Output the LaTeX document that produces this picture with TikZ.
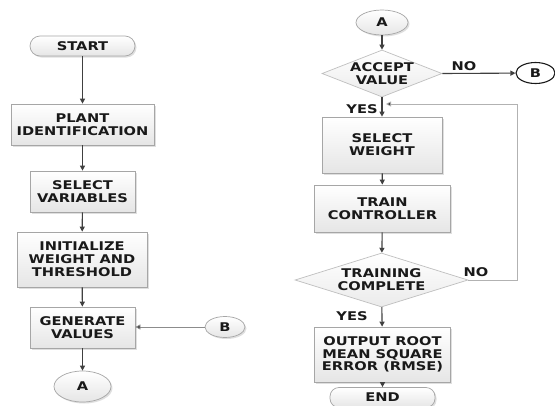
\documentclass[tikz,border=0pt]{standalone}
\usepackage{fontspec}
\newfontfamily\ff[FakeStretch=1.22]{DejaVu Sans}
\usetikzlibrary{shapes.geometric,arrows.meta,shadows}
\begin{document}
\begin{tikzpicture}[x=1pt,y=-1pt,
  txt/.style={font=\ff\bfseries\fontsize{12}{12.8}\selectfont, align=center, text=black!90, inner sep=0pt},
  shd/.style={drop shadow={opacity=0.25, shadow xshift=1.5pt, shadow yshift=-1.5pt}},
  box/.style={txt, shd, draw=black!35, line width=0.7pt, top color=white, bottom color=black!10},
  term/.style={box, rounded corners=10pt},
  oval/.style={txt, shd, ellipse, draw=black!35, line width=0.7pt, top color=white, bottom color=black!10},
  dec/.style={diamond, draw=black!25, line width=0.7pt, top color=white, bottom color=black!8, inner sep=0pt},
  lbl/.style={txt},
  arr/.style={draw=black!75, line width=1.1pt, -{Triangle[length=5pt,width=5pt]}},
  garr/.style={draw=black!45, line width=0.7pt, -{Triangle[length=5pt,width=5pt,fill=black!75]}},
]
\path[use as bounding box, clip] (0,0) rectangle (555,405);
\fill[white] (0,0) rectangle (555,405);

% left column
\node[term, minimum width=105pt, minimum height=20pt] (start) at (82.5,46) {START};
\node[box, minimum width=143pt, minimum height=41pt] (plant) at (82.5,124.5) {PLANT\\IDENTIFICATION};
\node[box, minimum width=105pt, minimum height=41pt] (selv) at (82.5,191.5) {SELECT\\VARIABLES};
\node[box, minimum width=130pt, minimum height=55pt] (init) at (82,259.5) {INITIALIZE\\WEIGHT AND\\THRESHOLD};
\node[box, minimum width=105pt, minimum height=41pt] (gen) at (82.5,327.5) {GENERATE\\VALUES};
\node[oval, minimum width=57pt, minimum height=31pt] (aL) at (82.5,386.5) {A};
\node[oval, minimum width=40pt, minimum height=21pt] (bL) at (225,327) {B};

\draw[arr] (start) -- (plant);
\draw[arr] (plant) -- (selv);
\draw[arr] (selv) -- (init);
\draw[arr] (init) -- (gen);
\draw[arr] (gen) -- (aL);
\draw[garr] (bL) -- (gen.east |- bL);

% right column
\node[oval, minimum width=52pt, minimum height=25pt] (aR) at (382,22.5) {A};
\node[dec, minimum width=120pt, minimum height=47pt] (acc) at (382,73.5) {};
\node[txt] at (acc) {ACCEPT\\VALUE};
\node[txt, ellipse, draw=black!90, line width=1.1pt, fill=white, minimum width=39pt, minimum height=21pt] (bR) at (535.5,73) {B};
\node[box, minimum width=120pt, minimum height=56pt] (sw) at (382,145) {SELECT\\WEIGHT};
\node[box, minimum width=136pt, minimum height=47pt] (tc) at (382.5,208.5) {TRAIN\\CONTROLLER};
\node[dec, minimum width=173pt, minimum height=54pt] (tcomp) at (381.5,280) {};
\node[txt] at (tcomp) {TRAINING\\COMPLETE};
\node[box, minimum width=136pt, minimum height=55pt] (out) at (382.5,354.5) {OUTPUT ROOT\\MEAN SQUARE\\ERROR (RMSE)};
\node[term, minimum width=105pt, minimum height=20pt, rounded corners=9pt] (endn) at (382.5,397.5) {END};

\node[lbl] (no1) at (464,66) {NO};
\node[lbl] (yes1) at (362,109) {YES};
\node[lbl] (no2) at (476,272) {NO};
\node[lbl] (yes2) at (352,316) {YES};

\draw[arr] (aR) -- (acc);
\draw[arr] (acc) -- (sw);
\draw[arr] (acc.east) -- (bR);
\draw[arr] (sw) -- (tc);
\draw[arr] (tc) -- (tcomp);
\draw[arr] (tcomp) -- (out);
\draw[arr] (out) -- (endn);
\coordinate (loopR) at (517,104);
\coordinate (loopE) at (386,104);
\draw[garr, draw=black!30] (tcomp.east) -| (loopR) -- (loopE);
\end{tikzpicture}
\end{document}
